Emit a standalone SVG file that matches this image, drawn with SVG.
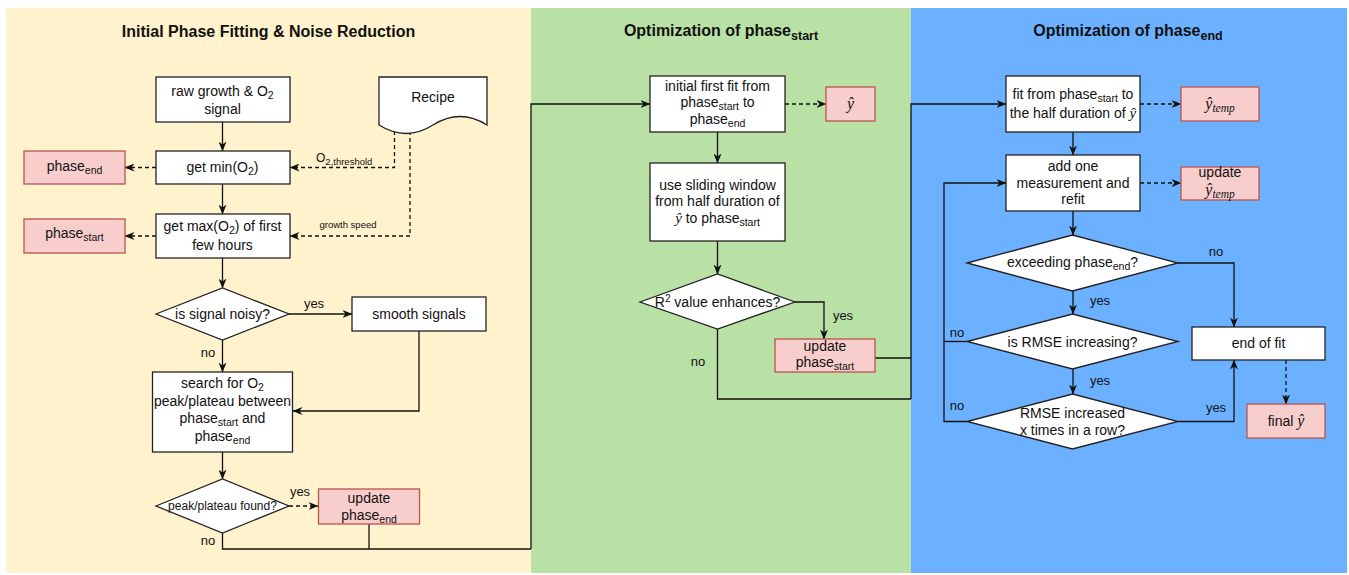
<svg xmlns="http://www.w3.org/2000/svg" width="1349" height="575" viewBox="0 0 1349 575">
<style>
text{font-family:"Liberation Sans",Arial,Helvetica,sans-serif;font-size:14px;fill:#111;text-anchor:middle}
.title{font-size:16px;font-weight:bold}
.box{fill:#fff;stroke:#222;stroke-width:1.3}
.red{fill:#f8cecc;stroke:#b85450;stroke-width:1.3}
.dia{fill:#fff;stroke:#222;stroke-width:1.3}
.ln{fill:none;stroke:#111;stroke-width:1.3}
.arr{marker-end:url(#ah)}
.dash{stroke-dasharray:4 3}
.lbl{font-size:13px}
.math{font-family:"Liberation Serif","Times New Roman",serif;font-style:italic}
</style>
<defs>
<marker id="ah" viewBox="0 0 10 8" refX="9.5" refY="4" markerWidth="10" markerHeight="8" markerUnits="userSpaceOnUse" orient="auto">
<path d="M0,0 L10,4 L0,8 L3,4 Z" fill="#111"/>
</marker>
</defs>
<rect x="0" y="0" width="1349" height="575" fill="#fff"/>
<g id="panels">
<rect x="6" y="8" width="525" height="565" fill="#fff2cc"/>
<rect x="531" y="8" width="380" height="565" fill="#b9e0a5"/>
<rect x="911" y="8" width="436" height="565" fill="#6cb1ff"/>
<text class="title" x="268.5" y="37">Initial Phase Fitting &amp; Noise Reduction</text>
<text class="title" x="721" y="36">Optimization of phase<tspan font-size="12.5" dy="4">start</tspan></text>
<text class="title" x="1128" y="36">Optimization of phase<tspan font-size="12.5" dy="4">end</tspan></text>
</g>
<g id="connectors">
<path class="ln arr" d="M222.5,122 V151"/>
<path class="ln arr" d="M222.5,184 V214"/>
<path class="ln arr" d="M222.5,258 V288"/>
<path class="ln arr dash" d="M156,167.5 H125"/>
<path class="ln arr dash" d="M156,236 H125"/>
<path class="ln arr dash" d="M394.5,131 V167.5 H290"/>
<path class="ln arr dash" d="M410,131 V236 H290"/>
<path class="ln arr" d="M289,314 H352"/>
<path class="ln arr" d="M222.5,340 V372"/>
<path class="ln arr" d="M419,331 V411 H293"/>
<path class="ln arr" d="M222.5,452 V479"/>
<path class="ln arr dash" d="M289,506 H318"/>
<path class="ln" d="M222.5,533 V549 H531"/>
<path class="ln" d="M369,524 V549"/>
<path class="ln arr" d="M531,549 V104 H650"/>
<path class="ln arr dash" d="M785,104 H826"/>
<path class="ln arr" d="M717.5,132 V163"/>
<path class="ln arr" d="M717.5,241 V274"/>
<path class="ln arr" d="M795,302 H824 V339"/>
<path class="ln" d="M717.5,329 V399 H911"/>
<path class="ln" d="M875,358 H911"/>
<path class="ln arr" d="M911,399 V104 H1006"/>
<path class="ln arr dash" d="M1140,104 H1181"/>
<path class="ln arr" d="M1073,132 V155"/>
<path class="ln arr dash" d="M1140,183 H1181"/>
<path class="ln arr" d="M1073,211 V235"/>
<path class="ln arr" d="M1178,263 H1234 V327"/>
<path class="ln arr" d="M1073,291 V314"/>
<path class="ln arr" d="M1073,369 V394"/>
<path class="ln arr" d="M967,421.5 H944 V183 H1006"/>
<path class="ln" d="M967,341.5 H944"/>
<path class="ln arr" d="M1178,421.5 H1234 V360"/>
<path class="ln arr dash" d="M1286,360 V404"/>
<text class="lbl" x="314" y="308">yes</text>
<text class="lbl" x="208" y="357">no</text>
<text class="lbl" x="300" y="496">yes</text>
<text class="lbl" x="208" y="545">no</text>
<text x="316" y="162" style="text-anchor:start;font-size:12px">O<tspan font-size="9.5" dy="3">2,threshold</tspan></text>
<text x="348" y="228" style="font-size:9.5px">growth speed</text>
<text class="lbl" x="843" y="320">yes</text>
<text class="lbl" x="698" y="366">no</text>
<text class="lbl" x="1216" y="256">no</text>
<text class="lbl" x="1100" y="305">yes</text>
<text class="lbl" x="1100" y="385">yes</text>
<text class="lbl" x="957" y="337">no</text>
<text class="lbl" x="957" y="410">no</text>
<text class="lbl" x="1216" y="412">yes</text>
</g>
<g id="raw">
<rect class="box" x="156" y="77" width="134" height="45"/>
<text x="222.5" y="96">raw growth &amp; O<tspan font-size="10.5" dy="3">2</tspan></text>
<text x="222.5" y="114">signal</text>
</g>
<g id="recipe">
<path class="box" d="M379,77 H487 V125 Q460,108 433,125 T379,125 Z"/>
<text x="433" y="102">Recipe</text>
</g>
<g id="getmin">
<rect class="box" x="156" y="151" width="134" height="33"/>
<text x="222.5" y="172">get min(O<tspan font-size="10.5" dy="3">2</tspan><tspan dy="-3">)</tspan></text>
</g>
<g id="phaseend1">
<rect class="red" x="24" y="151" width="101" height="33"/>
<text x="74.5" y="171">phase<tspan font-size="10.5" dy="3">end</tspan></text>
</g>
<g id="getmax">
<rect class="box" x="156" y="214" width="134" height="44"/>
<text x="222.5" y="231">get max(O<tspan font-size="10.5" dy="3">2</tspan><tspan dy="-3">) of first</tspan></text>
<text x="222.5" y="250">few hours</text>
</g>
<g id="phasestart1">
<rect class="red" x="24" y="219" width="101" height="34"/>
<text x="74.5" y="238">phase<tspan font-size="10.5" dy="3">start</tspan></text>
</g>
<g id="noisy">
<path class="dia" d="M156,314 L222.5,288 L289,314 L222.5,340 Z"/>
<text x="222.5" y="319">is signal noisy?</text>
</g>
<g id="smooth">
<rect class="box" x="352" y="297" width="134" height="34"/>
<text x="419" y="319">smooth signals</text>
</g>
<g id="search">
<rect class="box" x="152.5" y="372" width="140" height="80"/>
<text x="222.5" y="388">search for O<tspan font-size="10.5" dy="3">2</tspan></text>
<text x="222.5" y="406">peak/plateau between</text>
<text x="222.5" y="423">phase<tspan font-size="10.5" dy="3">start</tspan><tspan dy="-3"> and</tspan></text>
<text x="222.5" y="441">phase<tspan font-size="10.5" dy="3">end</tspan></text>
</g>
<g id="found">
<path class="dia" d="M156,506 L222.5,479 L289,506 L222.5,533 Z"/>
<text x="222.5" y="510" style="font-size:12px">peak/plateau found?</text>
</g>
<g id="updend">
<rect class="red" x="318.5" y="489" width="101" height="35"/>
<text x="369" y="503">update</text>
<text x="369" y="520">phase<tspan font-size="10.5" dy="3">end</tspan></text>
</g>
<g id="initfit">
<rect class="box" x="650" y="76" width="135" height="56"/>
<text x="717.5" y="91">initial first fit from</text>
<text x="717.5" y="107">phase<tspan font-size="10.5" dy="3">start</tspan><tspan dy="-3"> to</tspan></text>
<text x="717.5" y="124">phase<tspan font-size="10.5" dy="3">end</tspan></text>
</g>
<g id="yhat">
<rect class="red" x="826" y="87" width="49" height="34"/>
<text class="math" x="850.5" y="109" style="font-size:16px">ŷ</text>
</g>
<g id="sliding">
<rect class="box" x="650" y="163" width="135" height="78"/>
<text x="717.5" y="190">use sliding window</text>
<text x="717.5" y="206">from half duration of</text>
<text x="717.5" y="223"><tspan class="math" style="font-size:15px">ŷ</tspan> to phase<tspan font-size="10.5" dy="3">start</tspan></text>
</g>
<g id="r2">
<path class="dia" d="M640,302 L717.5,274 L795,302 L717.5,329 Z"/>
<text x="717.5" y="307">R<tspan font-size="10" dy="-5">2</tspan><tspan dy="5"> value enhances?</tspan></text>
</g>
<g id="updstart">
<rect class="red" x="775" y="339" width="100" height="33"/>
<text x="825" y="351">update</text>
<text x="825" y="367">phase<tspan font-size="10.5" dy="3">start</tspan></text>
</g>
<g id="fitfrom">
<rect class="box" x="1006" y="76" width="134" height="56"/>
<text x="1073" y="99">fit from phase<tspan font-size="10.5" dy="3">start</tspan><tspan dy="-3"> to</tspan></text>
<text x="1073" y="118">the half duration of <tspan class="math" style="font-size:15px">ŷ</tspan></text>
</g>
<g id="ytemp">
<rect class="red" x="1181" y="87" width="78" height="34"/>
<text class="math" x="1220" y="109" style="font-size:16px">ŷ<tspan font-size="11.5" dy="3">temp</tspan></text>
</g>
<g id="addone">
<rect class="box" x="1006" y="155" width="134" height="56"/>
<text x="1073" y="171">add one</text>
<text x="1073" y="188">measurement and</text>
<text x="1073" y="204">refit</text>
</g>
<g id="updtemp">
<rect class="red" x="1181" y="167" width="78" height="33"/>
<text x="1220" y="177">update</text>
<text class="math" x="1220" y="195" style="font-size:16px">ŷ<tspan font-size="11.5" dy="3">temp</tspan></text>
</g>
<g id="exceed">
<path class="dia" d="M967,263 L1072.5,235 L1178,263 L1072.5,291 Z"/>
<text x="1072.5" y="267">exceeding phase<tspan font-size="10.5" dy="3">end</tspan><tspan dy="-3">?</tspan></text>
</g>
<g id="rmseinc">
<path class="dia" d="M967,341.5 L1072.5,314 L1178,341.5 L1072.5,369 Z"/>
<text x="1072.5" y="347">is RMSE increasing?</text>
</g>
<g id="rmsex">
<path class="dia" d="M967,421.5 L1072.5,394 L1178,421.5 L1072.5,449 Z"/>
<text x="1072.5" y="418">RMSE increased</text>
<text x="1072.5" y="435">x times in a row?</text>
</g>
<g id="endfit">
<rect class="box" x="1192" y="327" width="133" height="33"/>
<text x="1258.5" y="348">end of fit</text>
</g>
<g id="final">
<rect class="red" x="1247" y="404" width="78" height="34"/>
<text x="1286" y="426">final <tspan class="math" style="font-size:16px">ŷ</tspan></text>
</g>
</svg>
